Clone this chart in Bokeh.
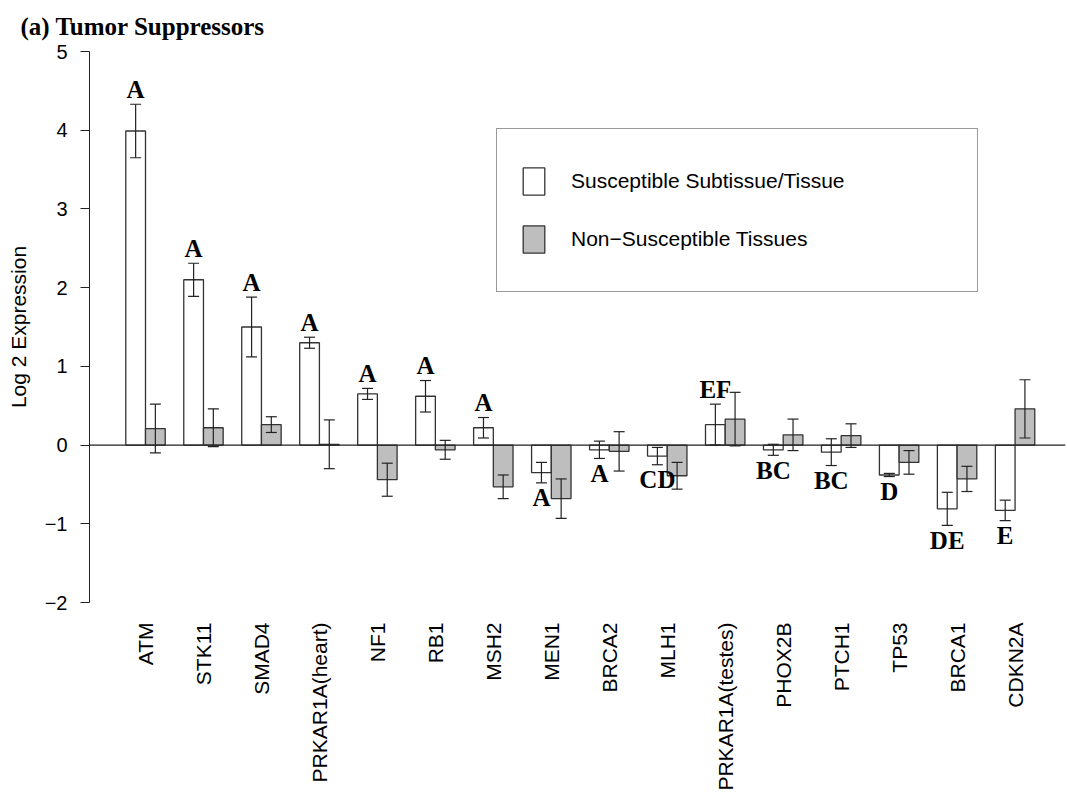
import math
from bokeh.plotting import figure
from bokeh.models import (ColumnDataSource, Range1d, FixedTicker, Whisker, TeeHead,
                          Span, Legend, LegendItem)
from bokeh.core.properties import value
from bokeh.embed import file_html
from bokeh.resources import INLINE

# ---- data ----
genes = ["ATM", "STK11", "SMAD4", "PRKAR1A(heart)", "NF1", "RB1", "MSH2", "MEN1",
         "BRCA2", "MLH1", "PRKAR1A(testes)", "PHOX2B", "PTCH1", "TP53", "BRCA1", "CDKN2A"]
susc_mean = [3.99, 2.10, 1.50, 1.30, 0.65, 0.62, 0.22, -0.35, -0.06, -0.14, 0.26, -0.06, -0.09, -0.38, -0.81, -0.83]
susc_se = [0.34, 0.21, 0.38, 0.07, 0.07, 0.20, 0.13, 0.13, 0.11, 0.11, 0.26, 0.07, 0.17, 0.02, 0.21, 0.13]
non_mean = [0.21, 0.22, 0.26, 0.01, -0.44, -0.06, -0.53, -0.68, -0.08, -0.39, 0.33, 0.13, 0.12, -0.22, -0.43, 0.46]
non_se = [0.31, 0.24, 0.10, 0.31, 0.21, 0.12, 0.15, 0.25, 0.25, 0.17, 0.34, 0.20, 0.15, 0.15, 0.16, 0.37]
letters = ["A", "A", "A", "A", "A", "A", "A", "A", "A", "CD", "EF", "BC", "BC", "D", "DE", "E"]
series_names = ["Susceptible Subtissue/Tissue", "Non\u2212Susceptible Tissues"]
yticks = [-2, -1, 0, 1, 2, 3, 4, 5]
ytick_labels = ["\u22122", "\u22121", "0", "1", "2", "3", "4", "5"]
title_text = "(a) Tumor Suppressors"

BAR_W = 0.34
idx = list(range(len(genes)))
x_s = [i - BAR_W / 2 for i in idx]
x_n = [i + BAR_W / 2 for i in idx]

src_s = ColumnDataSource(dict(x=x_s, top=susc_mean,
                              upper=[m + s for m, s in zip(susc_mean, susc_se)],
                              lower=[m - s for m, s in zip(susc_mean, susc_se)]))
src_n = ColumnDataSource(dict(x=x_n, top=non_mean,
                              upper=[m + s for m, s in zip(non_mean, non_se)],
                              lower=[m - s for m, s in zip(non_mean, non_se)]))

above = [m >= 0 for m in susc_mean]
src_up = ColumnDataSource(dict(
    x=[x for x, a in zip(x_s, above) if a],
    y=[m + s for m, s, a in zip(susc_mean, susc_se, above) if a],
    t=[l for l, a in zip(letters, above) if a]))
src_dn = ColumnDataSource(dict(
    x=[x for x, a in zip(x_s, above) if not a],
    y=[m - s for m, s, a in zip(susc_mean, susc_se, above) if not a],
    t=[l for l, a in zip(letters, above) if not a]))

p = figure(width=1067, height=804, output_backend="svg", toolbar_location=None,
           x_range=Range1d(-0.966, 15.87), y_range=Range1d(-2, 5),
           min_border_left=89, min_border_right=2, min_border_top=51, min_border_bottom=202,
           title=title_text)
p.outline_line_color = None
p.xgrid.visible = False
p.ygrid.visible = False
p.background_fill_color = "white"
p.border_fill_color = "white"

p.title.text_font = "Liberation Serif"
p.title.text_font_size = "25px"
p.title.text_font_style = "bold"
p.title.text_color = "black"
p.title.align = "left"
p.title.vertical_align = "top"
p.title.offset = -69
p.title.standoff = 20

OUT = "#333333"
r_s = p.vbar(x="x", top="top", bottom=0, width=BAR_W, source=src_s,
             fill_color="white", line_color=OUT, line_width=1.3)
r_n = p.vbar(x="x", top="top", bottom=0, width=BAR_W, source=src_n,
             fill_color="#bebebe", line_color=OUT, line_width=1.3)

p.add_layout(Span(location=0, dimension="width", line_color="#222222", line_width=1.2))

for src in (src_s, src_n):
    p.add_layout(Whisker(source=src, base="x", upper="upper", lower="lower",
                         level="overlay",
                         line_color="#222222", line_width=1.2,
                         upper_head=TeeHead(size=11, line_color="#222222", line_width=1.2),
                         lower_head=TeeHead(size=11, line_color="#222222", line_width=1.2)))

p.text(x="x", y="y", text="t", source=src_up, text_font=value("Liberation Serif"),
       text_font_style="bold", text_font_size="25px", text_align="center",
       text_baseline="middle", y_offset=-15, text_color="black")
p.text(x="x", y="y", text="t", source=src_dn, text_font=value("Liberation Serif"),
       text_font_style="bold", text_font_size="25px", text_align="center",
       text_baseline="middle", y_offset=15, text_color="black")

# y axis
ya = p.yaxis[0]
ya.ticker = FixedTicker(ticks=yticks)
ya.major_label_overrides = {t: l for t, l in zip(yticks, ytick_labels)}
ya.minor_tick_line_color = None
ya.major_tick_in = 0
ya.major_tick_out = 9
ya.major_label_standoff = 13
ya.major_label_text_font = "Liberation Sans"
ya.major_label_text_font_size = "20px"
ya.major_label_text_color = "black"
ya.axis_line_color = "#222222"
ya.major_tick_line_color = "#222222"
ya.axis_label = "Log 2 Expression"
ya.axis_label_text_font = "Liberation Sans"
ya.axis_label_text_font_size = "21px"
ya.axis_label_text_font_style = "normal"
ya.axis_label_text_color = "black"
ya.axis_label_standoff = 12

# x axis
xa = p.xaxis[0]
xa.ticker = FixedTicker(ticks=idx)
xa.major_label_overrides = {i: g for i, g in zip(idx, genes)}
xa.major_label_orientation = math.pi / 2
xa.axis_line_color = None
xa.major_tick_line_color = None
xa.minor_tick_line_color = None
xa.major_label_standoff = 14
xa.major_label_text_font = "Liberation Sans"
xa.major_label_text_font_size = "21px"
xa.major_label_text_color = "black"

legend = Legend(items=[LegendItem(label=series_names[0], renderers=[r_s]),
                       LegendItem(label=series_names[1], renderers=[r_n])],
                location=(407, 310), padding=23, spacing=0, margin=0,
                label_height=58, glyph_height=34, glyph_width=27,
                label_standoff=24, label_width=383,
                label_text_font="Liberation Sans", label_text_font_size="21px",
                label_text_color="black",
                border_line_color="#333333", border_line_width=1.2,
                background_fill_color="white", background_fill_alpha=1.0)
p.add_layout(legend, "center")

open("out.html", "w").write(file_html(p, INLINE))
